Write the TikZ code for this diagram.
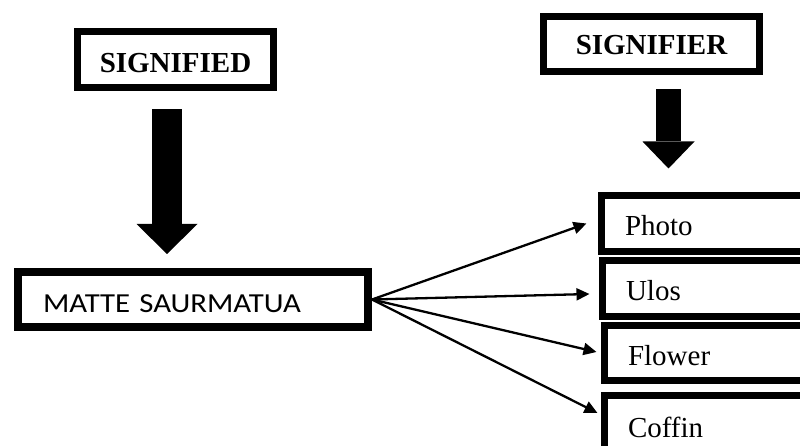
\documentclass[tikz,border=0pt]{standalone}
\usepackage{fontspec}
\setmainfont{Liberation Serif}
\newfontfamily\mattefont[FakeStretch=1.12]{Carlito}
\usepackage{tikz}
\usetikzlibrary{arrows.meta}

\begin{document}
\begin{tikzpicture}[x=1pt, y=-1pt,
  headbox/.style = {rectangle, draw = black, line width = 7pt, inner sep = 0pt,
    font = \fontsize{29}{34}\selectfont\bfseries, text depth = 0pt},
  itembox/.style = {rectangle, draw = black, line width = 7pt, inner ysep = 0pt, inner xsep = 23.5pt,
    text width = 178pt, align = left, minimum height = 56pt,
    font = \fontsize{29}{34}\selectfont, text height = 25pt, text depth = 0pt},
  bigarrow/.style = {line width = 30pt, -{Triangle[length = 30pt, width = 61pt, line width = 0pt]}},
  link/.style = {line width = 2.3pt, -{Triangle[length = 13pt, width = 12pt]}}]
\useasboundingbox (0,0) rectangle (800,446);
\clip (0,0) rectangle (800,446);
\draw (175.5,59.5) node[headbox, name = sigd, minimum width = 196pt, minimum height = 56pt, text height = 27pt]{SIGNIFIED};
\draw (651.5,44) node[headbox, name = sigr, minimum width = 216pt, minimum height = 55pt, text height = 22pt]{SIGNIFIER};
\draw (193,299.5) node[rectangle, draw = black, line width = 8pt, name = matte, minimum width = 350pt, minimum height = 55pt,
  inner xsep = 25pt, inner ysep = 0pt, text width = 300pt, align = left,
  font = \fontsize{27.5}{32}\mattefont, text height = 25pt, text depth = 0pt]{MATTE SAURMATUA};
\draw (714,223.5) node[itembox, name = photo]{Photo};
\draw (715,288.5) node[itembox, name = ulos]{Ulos};
\draw (717,353) node[itembox, name = flower, minimum height = 55pt]{Flower};
\draw (717,424.5) node[itembox, name = coffin, minimum height = 58pt]{Coffin};
% block arrows
\draw[bigarrow] ([xshift = -8.5pt, yshift = -18.5pt]sigd.south) coordinate (a1) -- ([yshift = 14pt]a1 |- matte.north);
\draw[line width = 25pt, -{Triangle[length = 27pt, width = 52pt, line width = 0pt]}] ([xshift = 17pt, yshift = -14.5pt]sigr.south) coordinate (a2) -- ([yshift = 23.5pt]a2 |- photo.north);
% links
\draw[link] (matte.east) -- ([xshift = -11.5pt]photo.west);
\draw[link] (matte.east) -- ([xshift = -9.5pt, yshift = -5.5pt]ulos.west);
\draw[link] (matte.east) -- ([xshift = -4.5pt, yshift = 1pt]flower.west);
\draw[link] (matte.east) -- ([xshift = -3.5pt, yshift = 11.5pt]coffin.west);
\end{tikzpicture}
\end{document}
